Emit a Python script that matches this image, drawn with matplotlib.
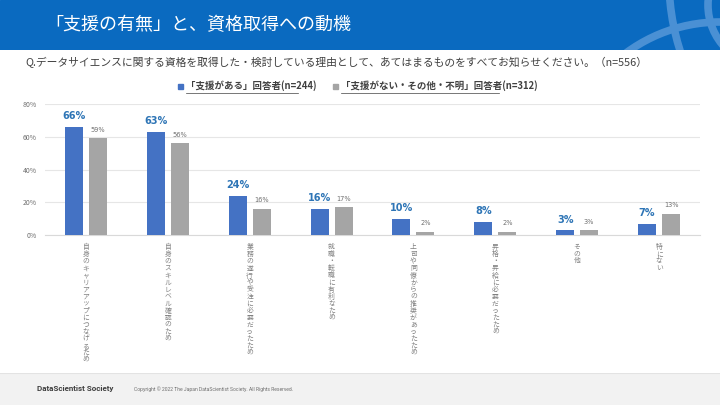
import numpy as np
import matplotlib
matplotlib.use("Agg")
import matplotlib.pyplot as plt
from matplotlib.patches import Rectangle, Circle

plt.rcParams['font.family'] = ['Noto Sans CJK JP', 'DejaVu Sans']

categories = [
    "自身のキャリアアップにつなげるため",
    "自身のスキルレベル確認のため",
    "業務の遂行や受注に必要だったため",
    "就職・転職に有利なため",
    "上司や同僚からの推奨があったため",
    "昇格・昇給に必要だったため",
    "その他",
    "特にない",
]
support_yes = [66, 63, 24, 16, 10, 8, 3, 7]
support_no = [59, 56, 16, 17, 2, 2, 3, 13]
series_names = ["「支援がある」回答者(n=244)", "「支援がない・その他・不明」回答者(n=312)"]
yticks = [0, 20, 40, 60, 80]

title = "「支援の有無」と、資格取得への動機"
question = "Q.データサイエンスに関する資格を取得した・検討している理由として、あてはまるものをすべてお知らせください。（n=556）"

BLUE = "#4472C4"
GRAY = "#A5A5A5"
HEADER = "#0A6AC0"
ARC = "#4A90D4"

fig = plt.figure(figsize=(7.2, 4.05), dpi=100)
W, H = 720, 405


def fx(px):
    return px / W


def fy(py):
    return 1 - py / H


# header band with decorative arcs
hdr = fig.add_axes([0, fy(50), 1, 50 / H])
hdr.set_xlim(0, W)
hdr.set_ylim(50, 0)
hdr.axis("off")
hdr.add_patch(Rectangle((0, 0), W, 50, color=HEADER))
for cx, cy, r in [(900, -20, 231), (720, 180, 158), (770, 5, 62)]:
    hdr.add_patch(Circle((cx, cy), r, fill=False, ec=ARC, lw=5.5))
hdr.text(45, 25, title, color="white", fontsize=13, va="center", ha="left")

# footer band
ftr = fig.add_axes([0, 0, 1, 32 / H])
ftr.set_xlim(0, W)
ftr.set_ylim(0, 1)
ftr.axis("off")
ftr.add_patch(Rectangle((0, 0), W, 1, color="#F2F2F2"))
ftr.plot([0, W], [1, 1], color="#E3E3E3", lw=0.8)
ftr.text(37, 0.5, "DataScientist Society", fontsize=5.8, fontweight="bold", color="#404040",
         va="center", family="Roboto")
ftr.text(134, 0.5, "Copyright © 2022 The Japan DataScientist Society. All Rights Reserved.",
         fontsize=3.6, color="#707070", va="center", family="Roboto")

fig.text(fx(25), fy(62), question, fontsize=7.75, color="#404040", va="center")

# legend
for lx, name, col in [(178, series_names[0], BLUE), (333, series_names[1], GRAY)]:
    fig.patches.append(Rectangle((fx(lx), fy(89)), fx(5), 5 / H, color=col,
                                 transform=fig.transFigure, figure=fig))
    fig.text(fx(lx + 8), fy(86), name, fontsize=6.8, color="#404040",
             fontweight="bold", va="center")
    fig.lines.append(plt.Line2D([fx(lx + 8), fx(lx + 8 + 6.8 * len(name) * 0.97)], [fy(92.5), fy(92.5)],
                                color="#404040", lw=0.5, transform=fig.transFigure))

ax = fig.add_axes([fx(45), fy(235), 655 / W, 131 / H])
x = np.arange(len(categories))
off = 0.147
w = 0.22
ax.bar(x - off, support_yes, w, color=BLUE, zorder=3)
ax.bar(x + off, support_no, w, color=GRAY, zorder=3)
for xi, v in zip(x, support_yes):
    ax.annotate(f"{v}%", (xi - off, v), xytext=(0, 4), textcoords="offset points",
                ha="center", va="bottom", fontsize=7, fontweight="bold", color="#2E75B6",
                family="DejaVu Sans")
for xi, v in zip(x, support_no):
    ax.annotate(f"{v}%", (xi + off, v), xytext=(0, 4), textcoords="offset points",
                ha="center", va="bottom", fontsize=4.8, color="#707070", family="DejaVu Sans")

ax.set_xlim(-0.5, len(categories) - 0.5)
ax.set_ylim(0, 80)
ax.set_yticks(yticks)
ax.set_yticklabels([f"{t}%" for t in yticks], fontsize=5, color="#707070")
ax.yaxis.grid(True, color="#E6E6E6", lw=0.8, zorder=0)
ax.tick_params(axis="y", length=0, pad=6)
ax.set_xticks(x)
# vertical (tategaki) labels: one character per line
ax.set_xticklabels(["\n".join(c) for c in categories], fontsize=4.9, color="#808080",
                   va="top", ha="center", linespacing=0.84)
ax.tick_params(axis="x", length=0, pad=6)
for s in ["top", "right", "left"]:
    ax.spines[s].set_visible(False)
ax.spines["bottom"].set_color("#D9D9D9")

fig.savefig("out.png", dpi=100)
